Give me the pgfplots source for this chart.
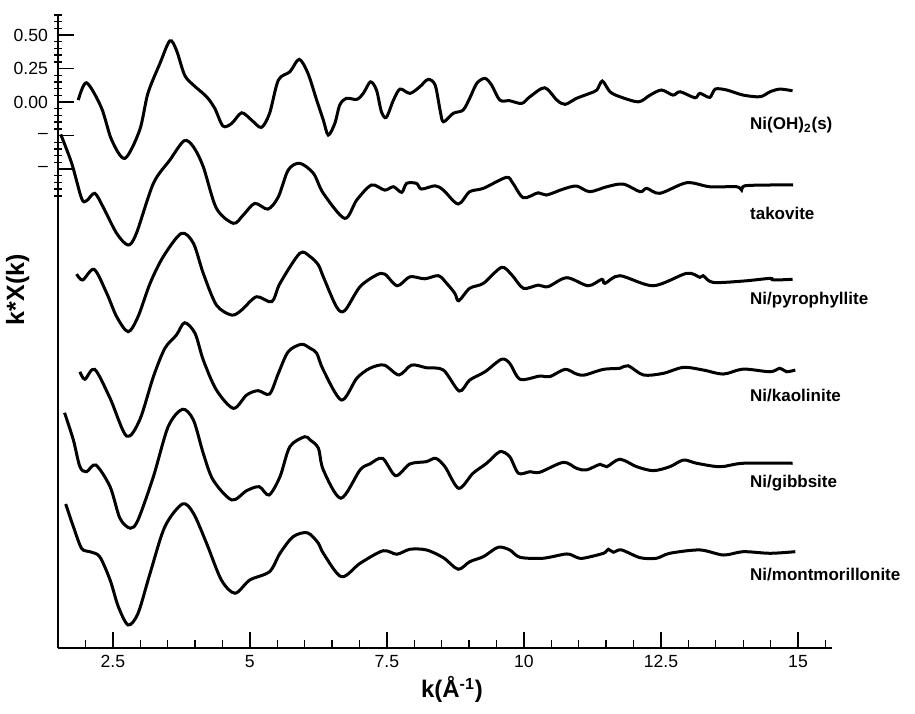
\documentclass[border=0pt]{standalone}
\usepackage{fontspec}
\setmainfont{Liberation Sans}
\usepackage{pgfplots}
\pgfplotsset{compat=1.18}
\usetikzlibrary{calc}

\begin{document}
\begin{tikzpicture}
  \begin{axis}[
      scale only axis,
      width=387pt,
      height=316.5pt,
      xmin=1.5, xmax=15.62,
      ymin=-4.075, ymax=0.65,
      axis lines*=left,
      axis line style={line width=0.9pt},
      clip=false,
      tick align=inside,
      major tick length=8pt,
      minor tick length=4pt,
      every tick/.style={black, line width=0.7pt},
      xtick={2.5,5,7.5,10,12.5,15},
      xticklabels={2.5,5,7.5,10,12.5,15},
      minor xtick={2,3,3.5,4,4.5,5.5,6,6.5,7,8,8.5,9,9.5,10.5,11,11.5,12,13,13.5,14,14.5,15.5},
      ytick={-0.5,-0.25,0,0.25,0.5},
      yticklabels={\textendash,\textendash,0.00,0.25,0.50},
      minor ytick={-0.7,-0.65,-0.6,-0.55,-0.45,-0.4,-0.35,-0.3,-0.2,-0.15,-0.1,-0.05,0.05,0.1,0.15,0.2,0.3,0.35,0.4,0.45,0.55,0.6,0.65},
      every minor y tick/.append style={xshift=-2pt},
      tick label style={font=\fontsize{8.8}{10}\selectfont},
      yticklabel style={xshift=-1.5pt},
      xlabel={\textbf{k(Å\textsuperscript{-1})}},
      ylabel={\textbf{k*X(k)}},
      xlabel style={font=\fontsize{12}{14}\selectfont, at={(rel axis cs:0.509,-0.066)}, anchor=center},
      ylabel style={font=\fontsize{12.5}{14}\selectfont, at={(rel axis cs:-0.052,0.566)}, anchor=center},
      cycle list={{black,solid}},
      every axis plot/.append style={line width=1.5pt, smooth, tension=0.5, no marks},
    ]
    % Ni(OH)2(s)
    \addplot coordinates {(1.87,0.015) (2.02,0.144) (2.29,-0.040) (2.48,-0.284) (2.72,-0.420) (2.99,-0.209) (3.14,0.065) (3.36,0.289) (3.54,0.457) (3.66,0.388) (3.81,0.201) (3.97,0.127) (4.21,0.040) (4.36,-0.047) (4.51,-0.179) (4.67,-0.159) (4.85,-0.080) (5.03,-0.134) (5.21,-0.189) (5.36,-0.084) (5.52,0.164) (5.73,0.226) (5.90,0.319) (6.06,0.214) (6.23,0.0) (6.34,-0.134) (6.43,-0.246) (6.55,-0.159) (6.64,-0.022) (6.76,0.028) (6.95,0.020) (7.07,0.065) (7.20,0.151) (7.31,0.090) (7.40,-0.072) (7.49,-0.114) (7.62,0.015) (7.74,0.097) (7.92,0.065) (8.10,0.114) (8.25,0.169) (8.38,0.127) (8.47,-0.060) (8.53,-0.147) (8.71,-0.084) (8.89,-0.060) (9.01,0.028) (9.14,0.140) (9.29,0.177) (9.41,0.127) (9.56,0.015) (9.74,0.010) (9.96,-0.010) (10.11,0.040) (10.38,0.107) (10.60,0.015) (10.75,-0.017) (10.96,0.028) (11.20,0.065) (11.33,0.090) (11.43,0.157) (11.57,0.077) (11.75,0.040) (12.09,0.002) (12.30,0.052) (12.51,0.090) (12.72,0.052) (12.85,0.077) (13.12,0.032) (13.21,0.065) (13.39,0.035) (13.49,0.097) (13.70,0.090) (14.00,0.052) (14.31,0.040) (14.49,0.077) (14.67,0.097) (14.90,0.084)};
    % takovite
    \addplot coordinates {(1.55,-0.241) (1.75,-0.457) (1.93,-0.719) (2.02,-0.737) (2.17,-0.681) (2.32,-0.781) (2.57,-0.980) (2.78,-1.067) (2.93,-0.980) (3.24,-0.607) (3.54,-0.433) (3.80,-0.289) (3.97,-0.334) (4.15,-0.483) (4.39,-0.793) (4.70,-0.905) (4.88,-0.843) (5.09,-0.756) (5.33,-0.799) (5.52,-0.707) (5.70,-0.507) (5.91,-0.457) (6.16,-0.532) (6.34,-0.681) (6.73,-0.868) (6.95,-0.731) (7.22,-0.619) (7.46,-0.657) (7.62,-0.632) (7.77,-0.674) (7.86,-0.607) (8.04,-0.607) (8.13,-0.649) (8.38,-0.625) (8.53,-0.657) (8.80,-0.761) (9.01,-0.669) (9.26,-0.644) (9.68,-0.562) (9.80,-0.607) (9.99,-0.714) (10.26,-0.677) (10.41,-0.694) (10.72,-0.649) (10.96,-0.627) (11.20,-0.669) (11.51,-0.632) (11.81,-0.612) (12.12,-0.669) (12.24,-0.644) (12.48,-0.681) (12.97,-0.602) (13.39,-0.632) (13.88,-0.632) (13.97,-0.657) (14.03,-0.625) (14.49,-0.619) (14.91,-0.619)};
    % Ni/pyrophyllite
    \addplot coordinates {(1.84,-1.284) (1.95,-1.328) (2.16,-1.249) (2.39,-1.428) (2.57,-1.602) (2.78,-1.714) (2.96,-1.602) (3.18,-1.353) (3.42,-1.154) (3.75,-0.980) (3.97,-1.054) (4.15,-1.278) (4.39,-1.515) (4.67,-1.590) (4.85,-1.552) (5.12,-1.453) (5.40,-1.490) (5.55,-1.353) (5.91,-1.129) (6.10,-1.154) (6.25,-1.216) (6.34,-1.304) (6.58,-1.528) (6.73,-1.557) (7.01,-1.378) (7.31,-1.291) (7.46,-1.284) (7.69,-1.371) (7.92,-1.304) (8.19,-1.319) (8.44,-1.296) (8.59,-1.353) (8.74,-1.428) (8.81,-1.483) (9.01,-1.390) (9.26,-1.353) (9.59,-1.234) (9.78,-1.291) (9.99,-1.390) (10.26,-1.366) (10.44,-1.378) (10.78,-1.311) (11.17,-1.371) (11.42,-1.323) (11.48,-1.353) (11.75,-1.296) (12.36,-1.371) (12.97,-1.278) (13.21,-1.308) (13.27,-1.296) (13.45,-1.346) (14.00,-1.336) (14.49,-1.316) (14.55,-1.328) (14.90,-1.323)};
    % Ni/kaolinite
    \addplot coordinates {(1.90,-2.013) (1.99,-2.069) (2.17,-1.995) (2.45,-2.211) (2.75,-2.493) (2.99,-2.373) (3.24,-2.050) (3.45,-1.838) (3.66,-1.739) (3.81,-1.647) (4.00,-1.726) (4.15,-1.925) (4.39,-2.149) (4.70,-2.286) (4.94,-2.187) (5.15,-2.154) (5.36,-2.179) (5.52,-2.025) (5.70,-1.863) (5.94,-1.808) (6.10,-1.838) (6.22,-1.875) (6.34,-2.000) (6.67,-2.224) (6.95,-2.062) (7.19,-1.987) (7.45,-1.963) (7.72,-2.037) (7.95,-1.963) (8.22,-1.983) (8.53,-2.000) (8.82,-2.157) (9.01,-2.075) (9.29,-2.013) (9.59,-1.920) (9.74,-1.950) (9.93,-2.069) (10.29,-2.045) (10.47,-2.050) (10.75,-1.995) (10.96,-2.030) (11.11,-2.037) (11.45,-1.995) (11.75,-1.987) (11.90,-1.968) (12.18,-2.037) (12.54,-2.025) (12.91,-1.980) (13.27,-2.000) (13.64,-2.030) (14.00,-1.993) (14.49,-2.013) (14.67,-1.987) (14.79,-2.013) (14.95,-2.000)};
    % Ni/gibbsite
    \addplot coordinates {(1.62,-2.319) (1.78,-2.522) (1.90,-2.722) (2.02,-2.759) (2.19,-2.709) (2.45,-2.871) (2.63,-3.107) (2.82,-3.181) (2.96,-3.119) (3.24,-2.796) (3.51,-2.423) (3.77,-2.293) (3.97,-2.373) (4.15,-2.622) (4.33,-2.821) (4.67,-2.970) (4.94,-2.901) (5.17,-2.871) (5.35,-2.933) (5.55,-2.796) (5.73,-2.572) (6.00,-2.498) (6.10,-2.522) (6.25,-2.584) (6.34,-2.746) (6.66,-2.957) (7.01,-2.746) (7.19,-2.701) (7.42,-2.659) (7.66,-2.789) (7.92,-2.701) (8.22,-2.684) (8.39,-2.659) (8.56,-2.722) (8.81,-2.883) (9.07,-2.771) (9.32,-2.696) (9.56,-2.610) (9.74,-2.647) (9.90,-2.771) (10.11,-2.759) (10.29,-2.763) (10.72,-2.689) (10.96,-2.734) (11.14,-2.746) (11.39,-2.704) (11.51,-2.722) (11.75,-2.666) (12.06,-2.722) (12.36,-2.751) (12.66,-2.722) (12.91,-2.672) (13.15,-2.696) (13.58,-2.722) (14.00,-2.696) (14.90,-2.696)};
    % Ni/montmorillonite
    \addplot coordinates {(1.64,-3.000) (1.78,-3.169) (1.93,-3.331) (2.08,-3.356) (2.26,-3.393) (2.45,-3.567) (2.60,-3.766) (2.78,-3.903) (2.96,-3.816) (3.18,-3.517) (3.45,-3.169) (3.77,-3.000) (3.97,-3.069) (4.21,-3.293) (4.48,-3.567) (4.73,-3.666) (5.00,-3.567) (5.36,-3.505) (5.55,-3.368) (5.79,-3.244) (6.05,-3.215) (6.25,-3.293) (6.34,-3.368) (6.67,-3.543) (7.01,-3.443) (7.43,-3.349) (7.68,-3.375) (7.92,-3.338) (8.22,-3.343) (8.53,-3.401) (8.80,-3.487) (9.01,-3.431) (9.26,-3.393) (9.53,-3.323) (9.74,-3.343) (9.93,-3.398) (10.35,-3.405) (10.78,-3.373) (10.96,-3.398) (11.08,-3.405) (11.45,-3.368) (11.54,-3.338) (11.63,-3.360) (11.78,-3.343) (12.12,-3.401) (12.42,-3.405) (12.66,-3.368) (13.21,-3.343) (13.64,-3.381) (14.00,-3.356) (14.49,-3.368) (14.95,-3.356)};

    \begin{scope}[every node/.style={anchor=west, inner sep=0pt, font=\fontsize{8.5}{10}\selectfont\bfseries}]
      \node at (axis cs:14.12,-0.172) {Ni(OH)\textsubscript{2}(s)};
      \node at (axis cs:14.12,-0.828) {takovite};
      \node at (axis cs:14.12,-1.478) {Ni/pyrophyllite};
      \node at (axis cs:14.12,-2.187) {Ni/kaolinite};
      \node at (axis cs:14.12,-2.843) {Ni/gibbsite};
      \node at (axis cs:14.12,-3.530) {Ni/montmorillonite};
    \end{scope}
    \coordinate (O) at (rel axis cs:0,0);
  \end{axis}
  \pgfresetboundingbox
  \path ($(O)+(-29pt,-32.5pt)$) rectangle ($(O)+(428.5pt,324pt)$);
\end{tikzpicture}
\end{document}
